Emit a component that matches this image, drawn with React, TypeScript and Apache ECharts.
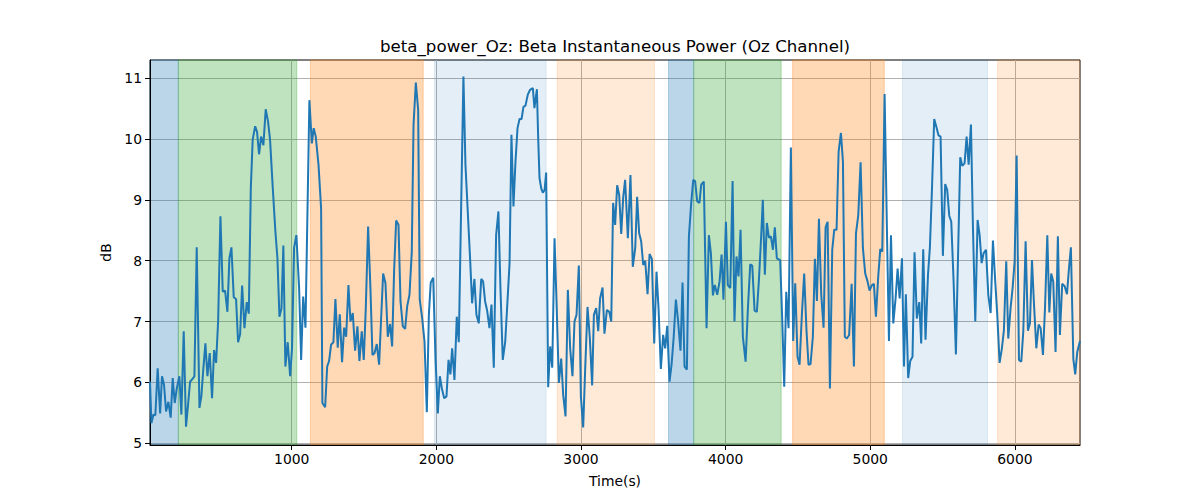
import React, { useEffect, useRef } from "react";
import * as echarts from "echarts";

const timeS = [
  20, 30, 44, 57, 73, 90, 103, 117, 131, 147, 163, 177, 191, 205, 223, 237, 253, 269, 283, 297,
  311, 327, 343, 362, 375, 389, 403, 417, 433, 449, 463, 477, 491, 507, 523, 539, 555, 569, 583, 599,
  615, 629, 643, 657, 673, 689, 703, 717, 730, 747, 760, 774, 788, 804, 820, 836, 850, 869, 887, 901,
  915, 929, 942, 956, 972, 989, 1002, 1016, 1032,
  1051, 1065, 1079, 1095, 1122, 1139, 1152, 1166, 1185, 1203, 1212, 1231, 1245, 1258, 1272, 1288,
  1302, 1318, 1332, 1348, 1362, 1376, 1392, 1406, 1422, 1438, 1454, 1468, 1484, 1498, 1512, 1528,
  1544, 1558, 1572, 1588, 1604, 1618, 1632, 1648, 1664, 1680, 1694, 1708, 1722, 1738, 1752, 1768,
  1784, 1798, 1814, 1830, 1842, 1858, 1874, 1885, 1902, 1918, 1934, 1948, 1961, 1978, 1994, 2010,
  2024, 2038, 2054, 2070, 2084, 2097,
  2109, 2125, 2141, 2155, 2187, 2201, 2217, 2234, 2247, 2263, 2277, 2293, 2310, 2323, 2337, 2351,
  2367, 2381, 2397, 2413, 2429, 2443, 2459, 2476, 2489, 2506, 2519, 2533, 2547, 2561, 2575, 2589,
  2602, 2616, 2632, 2648, 2667, 2678, 2695, 2704, 2713, 2725, 2736, 2748, 2759, 2773, 2787, 2801,
  2817, 2831, 2847, 2863, 2877, 2893, 2909, 2925, 2941, 2955, 2969, 2985, 2999, 3015, 3029, 3045,
  3061, 3077, 3089, 3105, 3119, 3132, 3149, 3162, 3179,
  3195, 3209, 3222, 3236, 3250, 3264, 3278, 3292, 3305, 3324, 3342, 3358, 3375, 3388, 3402, 3416,
  3430, 3444, 3460, 3474, 3490, 3506, 3522, 3536, 3552, 3568, 3582, 3596, 3612, 3626, 3640, 3656,
  3670, 3688, 3702, 3716, 3732, 3746, 3762, 3776, 3789, 3803, 3819, 3831, 3849, 3868, 3884, 3898,
  3912, 3925, 3942, 3958, 3972, 3985, 4002, 4015, 4032, 4048, 4061, 4075, 4089, 4103, 4119, 4138,
  4154, 4170, 4184, 4200, 4216, 4230, 4246, 4257,
  4271, 4285, 4299, 4313, 4327, 4340, 4354, 4377, 4391, 4405, 4419, 4435, 4451, 4467, 4481, 4497,
  4511, 4527, 4543, 4559, 4573, 4587, 4603, 4617, 4631, 4645, 4661, 4677, 4691, 4705, 4721, 4737,
  4751, 4767, 4781, 4797, 4811, 4824, 4838, 4854, 4871, 4887, 4901, 4917, 4933, 4949, 4965, 4981,
  4995, 5009, 5025, 5039, 5055, 5069, 5083, 5099, 5115, 5129, 5143, 5159, 5175, 5189, 5203, 5219,
  5233, 5246, 5262, 5276, 5292, 5306, 5322, 5339,
  5352, 5366, 5382, 5399, 5412, 5426, 5442, 5458, 5472, 5486, 5502, 5518, 5532, 5546, 5560, 5576,
  5592, 5606, 5622, 5636, 5652, 5666, 5680, 5696, 5710, 5726, 5742, 5756, 5770, 5783, 5800, 5816,
  5832, 5848, 5864, 5878, 5894, 5910, 5924, 5940, 5954, 5970, 5984, 5998, 6012, 6028, 6044, 6058,
  6074, 6090, 6104, 6118, 6131, 6148, 6164, 6178, 6194, 6208, 6224, 6238, 6251, 6265, 6281, 6297,
  6311, 6327, 6344, 6360, 6374, 6387, 6404, 6417, 6431, 6450,
];

const powerDb = [
  6.01, 5.33, 5.47, 5.46, 6.23, 5.49, 6.1, 5.96, 5.52, 5.68, 5.42, 6.07, 5.66, 5.9, 6.1, 5.47, 6.84, 5.27, 5.63, 6.01,
  6.05, 6.1, 8.22, 5.58, 5.77, 6.23, 6.64, 6.1, 6.48, 5.74, 6.53, 6.32, 7.0, 8.73, 7.49, 7.51, 7.16, 8.04, 8.22, 7.4,
  7.37, 6.66, 6.79, 7.59, 6.89, 7.32, 7.13, 9.19, 9.99, 10.21, 10.12, 9.75, 10.04, 9.9, 10.49, 10.29, 9.99, 9.19, 8.48, 8.04,
  7.08, 7.22, 8.25, 6.26, 6.66, 6.1, 6.56, 8.21, 8.42,
  7.55, 6.37, 7.41, 6.9, 10.64, 9.93, 10.18, 10.04, 9.58, 8.86, 5.66, 5.59, 6.26, 6.35, 6.62, 6.66,
  7.37, 6.57, 7.12, 6.33, 6.9, 6.75, 7.6, 7.0, 7.14, 6.52, 6.92, 6.35, 6.84, 6.37, 7.22, 8.56,
  7.55, 6.45, 6.48, 6.63, 6.29, 7.05, 7.79, 7.63, 6.75, 6.96, 6.59, 7.85, 8.66, 8.59, 7.33, 6.92,
  6.88, 7.25, 7.44, 8.15, 10.23, 10.93, 10.48, 7.36, 7.05, 6.67, 5.51, 7.11, 7.64, 7.72, 6.4, 5.49,
  6.1, 5.9, 5.74, 5.77, 6.37, 6.13,
  6.56, 6.04, 7.08, 6.66, 11.03, 9.58, 8.81, 7.99, 7.3, 7.7, 7.11, 6.97, 7.7, 7.66, 7.33, 7.18,
  6.89, 7.28, 6.24, 8.42, 8.81, 7.55, 6.37, 6.67, 7.22, 7.96, 10.07, 8.89, 9.63, 10.18, 10.33, 10.33,
  10.53, 10.55, 10.73, 10.81, 10.84, 10.51, 10.82, 10.01, 9.36, 9.19, 9.12, 9.16, 9.45, 5.92, 6.59, 6.24,
  8.37, 7.3, 5.99, 6.39, 5.79, 5.44, 7.52, 6.56, 6.1, 7.0, 7.11, 7.92, 5.77, 5.26, 6.23, 7.24,
  6.73, 5.95, 7.11, 7.22, 6.84, 7.38, 7.56, 6.8, 7.19,
  7.16, 7.0, 8.95, 8.59, 9.24, 9.08, 8.44, 9.05, 9.33, 8.37, 9.41, 7.9, 8.21, 9.05, 8.45, 8.32,
  7.93, 8.0, 7.45, 8.11, 8.03, 6.64, 7.82, 7.22, 6.22, 6.78, 6.56, 6.93, 6.01, 6.29, 6.72, 7.36,
  7.04, 6.52, 7.64, 6.26, 6.21, 8.4, 8.95, 9.33, 9.31, 8.98, 8.95, 9.25, 9.3, 6.89, 8.42, 8.12,
  7.43, 7.6, 7.44, 7.66, 8.1, 7.36, 8.64, 7.6, 7.55, 9.31, 7.0, 8.07, 7.74, 8.51, 6.75, 6.34,
  7.22, 7.94, 7.92, 7.18, 7.16, 7.68, 8.42, 9.0,
  7.77, 8.62, 8.38, 8.4, 8.18, 8.55, 8.04, 8.01, 7.05, 5.93, 7.49, 6.89, 9.86, 6.68, 7.63, 6.42,
  6.29, 7.11, 7.79, 6.85, 6.29, 6.3, 6.75, 8.03, 7.34, 8.69, 7.44, 6.9, 8.55, 8.64, 5.9, 8.18,
  8.51, 8.51, 9.79, 10.1, 9.63, 6.75, 6.72, 6.78, 7.62, 6.26, 8.45, 8.75, 9.62, 8.21, 7.79, 7.66,
  7.51, 7.59, 7.62, 7.08, 7.74, 8.19, 8.15, 10.74, 8.53, 6.68, 8.42, 6.97, 7.38, 7.87, 7.38, 8.04,
  6.26, 7.45, 6.07, 6.35, 6.42, 8.14, 7.05, 7.32,
  6.64, 8.19, 6.7, 7.77, 8.21, 9.14, 10.33, 10.19, 10.06, 10.04, 8.08, 9.26, 9.16, 8.74, 8.64, 7.66,
  6.46, 7.99, 9.7, 9.56, 9.6, 10.04, 9.58, 10.24, 8.53, 7.0, 8.67, 8.42, 7.96, 8.12, 8.18, 7.44,
  7.14, 8.33, 7.66, 7.11, 6.32, 6.56, 6.86, 7.99, 6.72, 7.22, 7.55, 7.99, 9.73, 6.37, 6.34, 6.84,
  8.32, 6.85, 6.97, 8.01, 7.33, 6.56, 6.95, 6.89, 6.45, 7.22, 8.42, 7.15, 7.79, 7.66, 6.5, 8.4,
  6.78, 7.62, 7.58, 7.45, 7.88, 8.22, 6.38, 6.13, 6.5, 6.68,
];

const spanStarts = [20, 216, 1129, 1987, 2835, 3605, 3779, 4463, 5223, 5880];
const spanEnds = [216, 1035, 1909, 2759, 3508, 3779, 4384, 5097, 5811, 6450];
const spanKinds = ["blue", "green", "orange", "lightblue", "lightorange", "blue", "green", "orange", "lightblue", "lightorange"];

const xTicks = [1000, 2000, 3000, 4000, 5000, 6000];
const yTicks = [5, 6, 7, 8, 9, 10, 11];

const titleText = "beta_power_Oz: Beta Instantaneous Power (Oz Channel)";
const xName = "Time(s)";
const yName = "dB";

const spanColors: Record<string, string> = {
  blue: "rgba(31,119,180,0.3)",
  green: "rgba(44,160,44,0.3)",
  orange: "rgba(255,127,14,0.3)",
  lightblue: "rgba(31,119,180,0.12)",
  lightorange: "rgba(255,127,14,0.16)",
};

const FONT = "'DejaVu Sans', sans-serif";

export default function App() {
  const ref = useRef<HTMLDivElement>(null);
  useEffect(() => {
    if (!ref.current) return;
    const chart = echarts.init(ref.current, undefined, { renderer: "svg" });
    const areas = spanStarts.map((s, i) => [
      {
        xAxis: s,
        itemStyle: {
          color: spanColors[spanKinds[i]],
          borderColor: spanColors[spanKinds[i]],
          borderWidth: 1,
        },
      },
      { xAxis: spanEnds[i] },
    ]);
    const lineData = timeS.map((t, i) => [t, powerDb[i]]);
    chart.setOption({
      animation: false,
      backgroundColor: "#ffffff",
      textStyle: { fontFamily: FONT },
      grid: {
        left: 150,
        top: 60,
        width: 930,
        height: 385,
        show: true,
        borderColor: "#000000",
        borderWidth: 1,
        backgroundColor: "transparent",
        containLabel: false,
        z: 1,
      },
      graphic: [
        {
          type: "text",
          x: 615,
          y: 46,
          style: {
            text: titleText,
            fill: "#000",
            font: "16.67px " + FONT,
            textAlign: "center",
            textVerticalAlign: "middle",
          },
        },
      ],
      xAxis: {
        type: "value",
        min: 20,
        max: 6450,
        name: xName,
        nameLocation: "middle",
        nameGap: 29,
        nameTextStyle: { color: "#000", fontSize: 13.9, fontFamily: FONT },
        axisLine: { show: true, onZero: false, lineStyle: { color: "#000", width: 1 } },
        axisTick: { show: true, length: 5, lineStyle: { color: "#000", width: 1 }, customValues: xTicks },
        axisLabel: {
          color: "#000",
          fontSize: 13.9,
          fontFamily: FONT,
          margin: 7,
          customValues: xTicks,
          formatter: (v: number) => String(v),
        },
        splitLine: { show: true, lineStyle: { color: "#b0b0b0", width: 1 } },
        z: 1,
      },
      yAxis: {
        type: "value",
        min: 4.97,
        max: 11.3,
        name: yName,
        nameLocation: "middle",
        nameGap: 33,
        nameTextStyle: { color: "#000", fontSize: 13.9, fontFamily: FONT },
        axisLine: { show: true, onZero: false, lineStyle: { color: "#000", width: 1 } },
        axisTick: { show: true, length: 5, lineStyle: { color: "#000", width: 1 }, customValues: yTicks },
        axisLabel: {
          color: "#000",
          fontSize: 13.9,
          fontFamily: FONT,
          margin: 8,
          customValues: yTicks,
          formatter: (v: number) => String(v),
        },
        splitLine: { show: true, lineStyle: { color: "#b0b0b0", width: 1 } },
        z: 1,
      },
      series: [
        {
          type: "line",
          data: lineData,
          showSymbol: false,
          symbol: "none",
          silent: true,
          lineStyle: { opacity: 0 },
          markArea: { silent: true, data: areas },
          z: 0,
          zlevel: 0,
        },
        {
          type: "line",
          data: lineData,
          showSymbol: false,
          symbol: "none",
          lineStyle: { color: "#1f77b4", width: 2 },
          itemStyle: { color: "#1f77b4" },
          z: 3,
        },
      ],
    });
    return () => chart.dispose();
  }, []);
  return (
    <div
      ref={ref}
      style={{ position: "fixed", left: 0, top: 0, width: 1200, height: 500 }}
    />
  );
}
